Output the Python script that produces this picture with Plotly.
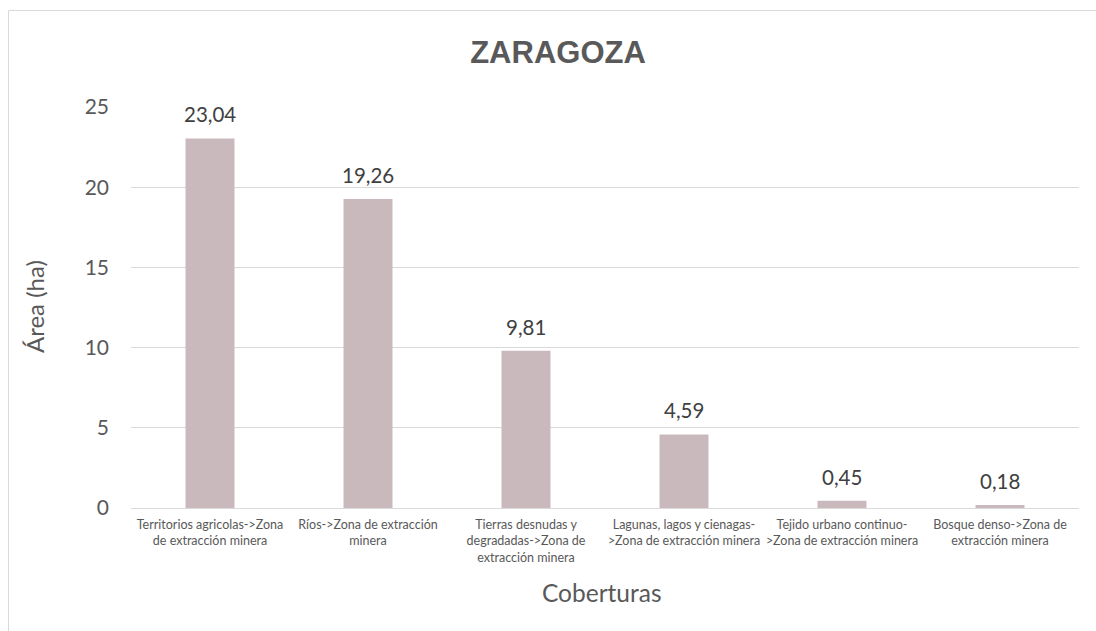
import plotly.graph_objects as go

categories = [
    "Territorios agricolas->Zona<br>de extracción minera",
    "Ríos->Zona de extracción<br>minera",
    "Tierras desnudas y<br>degradadas->Zona de<br>extracción minera",
    "Lagunas, lagos y cienagas-<br>>Zona de extracción minera",
    "Tejido urbano continuo-<br>>Zona de extracción minera",
    "Bosque denso->Zona de<br>extracción minera",
]
values = [23.04, 19.26, 9.81, 4.59, 0.45, 0.18]
y_ticks = [0, 5, 10, 15, 20, 25]

FONT = "Lato, 'Open Sans', sans-serif"

W, H = 1096, 631
# plot area in screen pixels
SX0, SX1, SY0, SY1 = 131, 1079, 107, 508
L, R = SX0, W - SX1
T, B = SY0, H - SY1
pw, ph = SX1 - SX0, SY1 - SY0


def px_x(sx):
    return (sx - SX0) / pw


def px_y(sy):
    return (SY1 - sy) / ph


fig = go.Figure()
fig.add_trace(go.Bar(
    x=categories, y=values,
    marker=dict(color="#C9B9BD", line=dict(width=0)),
    hoverinfo="skip",
))

for c, v in zip(categories, values):
    fig.add_annotation(
        x=c, y=v, xref="x", yref="y",
        text=f"{v:.2f}".replace(".", ","),
        showarrow=False, yanchor="bottom", yshift=10,
        font=dict(family=FONT, size=20.5, color="#404040"),
    )

# outer chart border (visible on left and top)
fig.add_shape(
    type="path", xref="paper", yref="paper",
    path=(f"M {px_x(8.5)} {px_y(H + 5)} "
          f"L {px_x(8.5)} {px_y(10.5)} "
          f"L {px_x(W + 5)} {px_y(10.5)}"),
    line=dict(color="#D9D9D9", width=1),
    fillcolor="rgba(0,0,0,0)",
)

# axis titles
fig.add_annotation(
    xref="paper", yref="paper",
    x=px_x(34), y=px_y(307), xanchor="center", yanchor="middle",
    text="Área (ha)", textangle=-90, showarrow=False,
    font=dict(family=FONT, size=24, color="#595959"),
)
fig.add_annotation(
    xref="paper", yref="paper",
    x=px_x(602), y=px_y(592), xanchor="center", yanchor="middle",
    text="Coberturas", showarrow=False,
    font=dict(family=FONT, size=24.5, color="#595959"),
)

fig.update_layout(
    width=W, height=H,
    margin=dict(l=L, r=R, t=T, b=B),
    paper_bgcolor="white", plot_bgcolor="white",
    separators=",.",
    bargap=0.69,
    showlegend=False,
    hovermode=False,
    title=dict(
        text="<b>ZARAGOZA</b>", x=558 / W, xref="container", xanchor="center",
        y=1 - 52 / H, yref="container", yanchor="middle",
        font=dict(family="'Liberation Sans', Arial, sans-serif", size=31, color="#595959"),
    ),
    font=dict(family=FONT, color="#595959"),
)
fig.update_xaxes(
    showgrid=False, showline=True, linecolor="#D9D9D9", linewidth=1,
    ticks="", tickfont=dict(family=FONT, size=12.5, color="#595959"),
    tickangle=0, ticklabelstandoff=5,
)
fig.update_yaxes(
    range=[0, 25], tickvals=y_ticks, showgrid=True, gridcolor="#D9D9D9",
    gridwidth=1, zeroline=False, showline=False, ticks="",
    tickfont=dict(family=FONT, size=21, color="#595959"),
    ticklabelstandoff=21,
)

fig.write_html(
    "out.html",
    config={"displayModeBar": False},
    post_script="document.body.style.margin='0';document.body.style.overflow='hidden';",
)
